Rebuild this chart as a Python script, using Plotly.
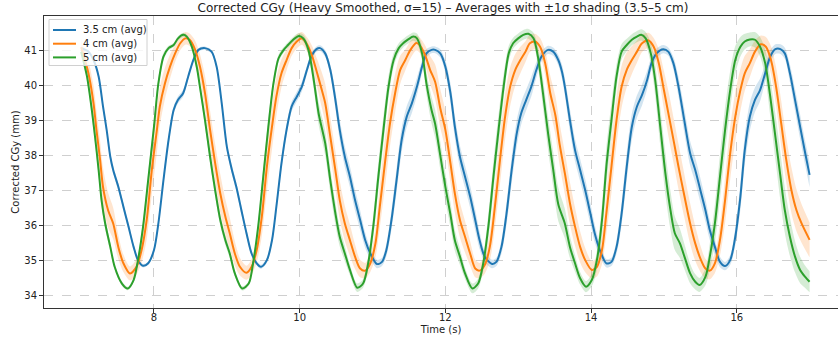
import plotly.graph_objects as go

title_text = "Corrected CGy (Heavy Smoothed, σ=15) – Averages with ±1σ shading (3.5–5 cm)"
series_names = ["3.5 cm (avg)", "4 cm (avg)", "5 cm (avg)"]
x_ticks = [8, 10, 12, 14, 16]
y_ticks = [34, 35, 36, 37, 38, 39, 40, 41]

# ---- 3.5 cm ----
t_35 = [7.00, 7.10, 7.17, 7.24, 7.30, 7.35, 7.40, 7.44, 7.51, 7.58, 7.65, 7.72, 7.78, 7.85, 7.92,
        8.00, 8.06, 8.13, 8.20, 8.27, 8.33, 8.40, 8.47, 8.54, 8.61, 8.70, 8.79, 8.86, 8.93, 9.00,
        9.07, 9.13, 9.20, 9.27, 9.34, 9.41, 9.47, 9.55, 9.62, 9.68, 9.75, 9.82, 9.89, 9.96, 10.03,
        10.10, 10.16, 10.23, 10.28, 10.35, 10.42, 10.49, 10.55, 10.62, 10.69, 10.76, 10.83, 10.90, 10.97, 11.06,
        11.13, 11.19, 11.26, 11.33, 11.40, 11.47, 11.54, 11.61, 11.68, 11.74, 11.81, 11.86, 11.93, 12.00, 12.07,
        12.13, 12.20, 12.27, 12.34, 12.41, 12.47, 12.54, 12.64, 12.70, 12.77, 12.84, 12.91, 12.98, 13.04, 13.11,
        13.18, 13.25, 13.32, 13.41, 13.48, 13.55, 13.60, 13.64, 13.71, 13.78, 13.85, 13.92, 13.99, 14.05, 14.12,
        14.21, 14.28, 14.35, 14.42, 14.49, 14.56, 14.63, 14.70, 14.77, 14.83, 14.90, 14.99, 15.06, 15.13, 15.20,
        15.28, 15.36, 15.43, 15.50, 15.57, 15.63, 15.70, 15.77, 15.84, 15.91, 15.98, 16.05, 16.11, 16.18, 16.25,
        16.32, 16.39, 16.46, 16.53, 16.60, 16.66, 16.73, 16.80, 16.87, 16.94, 17.00]
y_35 = [41.07, 40.97, 40.73, 40.26, 39.40, 38.73, 37.96, 37.58, 37.10, 36.53, 35.96, 35.38, 35.00, 34.84, 34.91,
        35.29, 36.05, 37.29, 38.44, 39.30, 39.59, 39.78, 40.26, 40.73, 41.02, 41.07, 40.97, 40.54, 39.49, 38.25,
        37.58, 37.10, 36.43, 35.77, 35.19, 34.91, 34.81, 35.00, 35.57, 36.53, 37.77, 38.73, 39.40, 39.68, 39.97,
        40.45, 40.83, 41.04, 41.07, 40.92, 40.45, 39.59, 38.73, 37.96, 37.39, 36.72, 36.15, 35.57, 35.19, 34.89,
        34.95, 35.29, 36.15, 37.29, 38.44, 39.11, 39.49, 39.97, 40.54, 40.92, 41.02, 41.02, 40.92, 40.54, 39.78,
        38.82, 37.96, 37.39, 36.82, 36.15, 35.57, 35.10, 34.89, 34.95, 35.38, 36.34, 37.58, 38.63, 39.20, 39.59,
        39.97, 40.45, 40.83, 41.02, 40.97, 40.73, 40.40, 39.97, 39.01, 38.15, 37.58, 37.00, 36.34, 35.77, 35.29,
        34.91, 34.95, 35.38, 36.34, 37.68, 38.82, 39.40, 39.73, 40.16, 40.64, 40.92, 41.04, 40.97, 40.64, 39.97,
        39.00, 38.06, 37.58, 37.01, 36.43, 35.86, 35.38, 34.95, 34.83, 35.00, 35.67, 36.82, 38.15, 39.11, 39.59,
        39.87, 40.35, 40.83, 41.04, 41.04, 40.92, 40.35, 39.59, 38.82, 38.06, 37.44]
s_35 = [.05, .05, .06, .08, .10, .10, .10, .10, .10, .10, .10, .08, .06, .05, .05,
        .07, .10, .12, .12, .10, .10, .10, .08, .06, .05, .05, .05, .07, .10, .12,
        .12, .12, .12, .10, .08, .06, .06, .07, .10, .14, .16, .16, .14, .14, .14,
        .12, .10, .08, .08, .10, .15, .25, .30, .30, .30, .30, .28, .22, .16, .12,
        .12, .18, .28, .35, .35, .30, .28, .25, .18, .12, .10, .10, .12, .18, .28,
        .32, .32, .32, .32, .30, .25, .16, .12, .12, .20, .32, .38, .38, .32, .30,
        .28, .22, .15, .12, .12, .15, .20, .25, .32, .32, .32, .32, .30, .26, .18,
        .12, .12, .20, .32, .40, .38, .32, .30, .26, .18, .14, .12, .12, .18, .28,
        .35, .35, .35, .35, .32, .28, .22, .15, .12, .14, .25, .38, .42, .40, .35,
        .32, .25, .18, .14, .14, .16, .25, .32, .35, .35, .35]

# ---- 4 cm ----
t_4 = [7.00, 7.10, 7.17, 7.21, 7.26, 7.30, 7.37, 7.44, 7.51, 7.58, 7.67, 7.76, 7.83, 7.90, 7.97,
       8.04, 8.08, 8.15, 8.22, 8.29, 8.36, 8.43, 8.49, 8.56, 8.63, 8.70, 8.77, 8.84, 8.91, 8.98,
       9.04, 9.11, 9.18, 9.27, 9.34, 9.41, 9.48, 9.55, 9.62, 9.68, 9.75, 9.82, 9.89, 9.96, 10.03,
       10.10, 10.17, 10.24, 10.30, 10.35, 10.42, 10.49, 10.55, 10.62, 10.69, 10.76, 10.83, 10.90, 10.97, 11.04,
       11.10, 11.17, 11.24, 11.31, 11.38, 11.45, 11.52, 11.60, 11.65, 11.72, 11.79, 11.86, 11.93, 12.00, 12.07,
       12.13, 12.20, 12.27, 12.34, 12.41, 12.47, 12.54, 12.61, 12.68, 12.75, 12.82, 12.89, 12.96, 13.03, 13.10,
       13.16, 13.23, 13.30, 13.37, 13.44, 13.51, 13.57, 13.64, 13.71, 13.78, 13.85, 13.92, 14.01, 14.08, 14.15,
       14.21, 14.28, 14.35, 14.42, 14.49, 14.56, 14.63, 14.70, 14.79, 14.86, 14.93, 15.00, 15.07, 15.14, 15.20,
       15.28, 15.36, 15.43, 15.50, 15.57, 15.63, 15.70, 15.77, 15.84, 15.91, 15.98, 16.05, 16.11, 16.18, 16.25,
       16.33, 16.40, 16.47, 16.54, 16.61, 16.68, 16.75, 16.82, 16.89, 17.00]
y_4 = [41.10, 40.35, 39.49, 38.73, 37.87, 37.10, 36.43, 36.05, 35.38, 34.91, 34.62, 34.81, 35.29, 36.15, 37.58,
       38.73, 39.40, 40.06, 40.54, 40.92, 41.21, 41.35, 41.31, 41.05, 40.55, 39.78, 38.73, 37.77, 36.91, 36.24,
       35.77, 35.19, 34.81, 34.64, 34.81, 35.29, 36.24, 37.68, 38.82, 39.68, 40.35, 40.73, 41.07, 41.26, 41.35,
       41.18, 40.85, 40.35, 39.90, 39.50, 38.54, 37.58, 36.72, 36.05, 35.57, 35.10, 34.76, 34.70, 34.91, 35.48,
       36.53, 37.77, 38.92, 39.78, 40.45, 40.73, 41.02, 41.22, 41.15, 40.88, 40.45, 40.10, 39.35, 38.73, 37.77,
       36.91, 36.15, 35.67, 35.19, 34.76, 34.70, 34.86, 35.38, 36.53, 37.87, 39.11, 39.97, 40.45, 40.73, 40.97,
       41.21, 41.26, 41.11, 40.64, 39.78, 39.15, 38.30, 37.49, 36.63, 35.96, 35.38, 35.00, 34.72, 34.81, 35.29,
       36.34, 37.68, 39.01, 39.97, 40.45, 40.73, 40.97, 41.21, 41.29, 41.11, 40.64, 39.87, 39.11, 38.35, 37.68,
       36.85, 36.05, 35.48, 35.05, 34.76, 34.70, 34.91, 35.58, 36.72, 38.06, 39.11, 39.87, 40.35, 40.64, 40.97,
       41.18, 41.11, 40.73, 39.97, 38.92, 37.87, 37.01, 36.43, 36.05, 35.58]
s_4 = [.20, .35, .50, .55, .55, .55, .50, .45, .35, .25, .20, .22, .35, .55, .70,
       .65, .55, .45, .35, .25, .20, .18, .18, .25, .35, .50, .55, .55, .55, .50,
       .45, .35, .25, .20, .22, .35, .55, .70, .65, .55, .40, .30, .22, .20, .18,
       .20, .28, .40, .50, .55, .55, .55, .55, .50, .45, .35, .25, .22, .25, .40,
       .60, .70, .65, .55, .40, .30, .25, .22, .22, .28, .40, .50, .55, .55, .55,
       .55, .50, .45, .35, .25, .22, .25, .40, .60, .70, .65, .55, .45, .38, .30,
       .25, .22, .25, .35, .50, .55, .60, .60, .60, .55, .45, .35, .25, .28, .40,
       .60, .75, .70, .60, .50, .40, .32, .25, .22, .25, .40, .55, .65, .65, .65,
       .62, .58, .50, .38, .28, .25, .28, .45, .65, .75, .70, .60, .50, .40, .32,
       .25, .28, .40, .55, .65, .65, .65, .60, .55, .50]

# ---- 5 cm ----
t_5 = [7.00, 7.08, 7.14, 7.19, 7.24, 7.28, 7.33, 7.40, 7.46, 7.56, 7.64, 7.72, 7.78, 7.85, 7.92,
       8.00, 8.06, 8.13, 8.20, 8.27, 8.33, 8.40, 8.45, 8.52, 8.59, 8.63, 8.70, 8.77, 8.84, 8.91,
       8.98, 9.04, 9.11, 9.21, 9.30, 9.36, 9.43, 9.50, 9.57, 9.64, 9.71, 9.78, 9.84, 9.91, 9.99,
       10.05, 10.12, 10.19, 10.26, 10.35, 10.42, 10.49, 10.55, 10.62, 10.69, 10.79, 10.87, 10.94, 11.01, 11.08,
       11.15, 11.22, 11.29, 11.36, 11.42, 11.49, 11.56, 11.61, 11.68, 11.74, 11.81, 11.86, 11.93, 12.00, 12.07,
       12.13, 12.20, 12.27, 12.37, 12.45, 12.52, 12.59, 12.66, 12.73, 12.80, 12.87, 12.93, 13.00, 13.07, 13.14,
       13.21, 13.27, 13.34, 13.41, 13.48, 13.55, 13.64, 13.71, 13.78, 13.85, 13.93, 14.01, 14.08, 14.15, 14.21,
       14.28, 14.35, 14.42, 14.49, 14.56, 14.63, 14.69, 14.75, 14.82, 14.88, 14.95, 15.02, 15.09, 15.15, 15.22,
       15.29, 15.36, 15.43, 15.49, 15.57, 15.63, 15.70, 15.77, 15.84, 15.91, 15.98, 16.05, 16.11, 16.18, 16.25,
       16.32, 16.39, 16.46, 16.53, 16.60, 16.66, 16.73, 16.80, 16.87, 16.94, 17.00]
y_5 = [40.97, 40.26, 39.40, 38.54, 37.58, 36.72, 36.05, 35.38, 34.81, 34.33, 34.19, 34.43, 35.00, 35.96, 37.29,
       38.82, 40.06, 40.83, 41.07, 41.16, 41.35, 41.45, 41.40, 41.11, 40.50, 39.97, 39.01, 37.96, 37.00, 36.15,
       35.57, 35.19, 34.62, 34.19, 34.33, 34.91, 35.96, 37.39, 38.82, 40.06, 40.78, 41.02, 41.16, 41.31, 41.42,
       41.35, 41.02, 40.20, 39.20, 38.35, 37.29, 36.34, 35.67, 35.19, 34.72, 34.21, 34.33, 34.91, 35.96, 37.39,
       38.73, 39.97, 40.73, 41.07, 41.21, 41.32, 41.40, 41.35, 40.92, 40.06, 39.30, 38.90, 38.00, 37.10, 36.30,
       35.57, 35.10, 34.62, 34.19, 34.33, 34.91, 35.96, 37.39, 38.73, 39.97, 40.92, 41.21, 41.35, 41.45, 41.48,
       41.35, 40.83, 39.78, 38.63, 37.60, 36.60, 36.05, 35.38, 34.91, 34.48, 34.24, 34.43, 35.00, 36.15, 37.68,
       39.01, 40.26, 40.97, 41.16, 41.31, 41.40, 41.45, 41.35, 40.92, 40.16, 38.82, 37.49, 36.43, 35.77, 35.48,
       35.05, 34.62, 34.38, 34.29, 34.52, 35.10, 36.05, 37.39, 38.73, 39.87, 40.73, 41.11, 41.26, 41.32, 41.31,
       41.11, 40.64, 39.68, 38.54, 37.39, 36.43, 35.67, 35.10, 34.72, 34.52, 34.38]
s_5 = [.06, .10, .15, .18, .18, .18, .16, .12, .08, .06, .05, .06, .10, .16, .20,
       .20, .15, .10, .07, .06, .06, .06, .06, .08, .12, .15, .18, .18, .18, .16,
       .14, .12, .08, .06, .06, .10, .16, .22, .22, .16, .10, .08, .08, .08, .08,
       .10, .15, .25, .32, .35, .35, .32, .28, .22, .15, .12, .12, .20, .32, .40,
       .40, .32, .20, .14, .12, .12, .12, .14, .22, .32, .38, .40, .40, .40, .36,
       .30, .24, .16, .14, .14, .22, .36, .45, .45, .36, .22, .16, .14, .14, .14,
       .16, .28, .42, .48, .50, .48, .42, .32, .24, .18, .16, .18, .28, .45, .55,
       .50, .35, .22, .18, .16, .16, .16, .18, .30, .45, .55, .60, .55, .48, .42,
       .35, .28, .22, .20, .24, .38, .55, .65, .65, .55, .40, .28, .22, .20, .22,
       .28, .40, .55, .65, .70, .65, .55, .45, .38, .32, .30]

colors = ["#1f77b4", "#ff7f0e", "#2ca02c"]
fills = ["rgba(31,119,180,0.2)", "rgba(255,127,14,0.2)", "rgba(44,160,44,0.2)"]
series = list(zip(series_names, [t_35, t_4, t_5], [y_35, y_4, y_5], [s_35, s_4, s_5], colors, fills))

fig = go.Figure()
for name, t, y, s, col, fillcol in series:
    assert len(t) == len(y) == len(s), (name, len(t), len(y), len(s))
    upper = [a + b for a, b in zip(y, s)]
    lower = [a - b for a, b in zip(y, s)]
    fig.add_trace(go.Scatter(x=t, y=upper, mode="lines", line=dict(width=0, shape="spline", smoothing=0.8),
                             showlegend=False, hoverinfo="skip"))
    fig.add_trace(go.Scatter(x=t, y=lower, mode="lines", line=dict(width=0, shape="spline", smoothing=0.8),
                             fill="tonexty", fillcolor=fillcol, showlegend=False, hoverinfo="skip"))

for name, t, y, s, col, fillcol in series:
    fig.add_trace(go.Scatter(x=t, y=y, mode="lines", name=name, showlegend=False,
                             line=dict(color=col, width=2, shape="spline", smoothing=0.8)))

W, H = 838, 341
L, R, T, B = 44, 0, 16, 33
PW, PH = W - L - R, H - T - B


def px(x):  # page pixel -> paper x
    return (x - L) / PW


def py(y):  # page pixel -> paper y
    return (H - B - y) / PH


# legend box (matplotlib-style, drawn by hand)
fig.add_shape(type="rect", xref="paper", yref="paper", x0=px(49), x1=px(147), y0=py(65.5), y1=py(19.5),
              fillcolor="rgba(255,255,255,0.8)", line=dict(color="#d0d0d0", width=1), layer="above")
for i, (name, col) in enumerate(zip(series_names, colors)):
    yy = 30 + i * 13.7
    fig.add_shape(type="line", xref="paper", yref="paper", x0=px(53), x1=px(76), y0=py(yy), y1=py(yy),
                  line=dict(color=col, width=2), layer="above")
    fig.add_annotation(text=name, xref="paper", yref="paper", x=px(81), y=py(yy), xanchor="left",
                       yanchor="middle", showarrow=False, font=dict(size=10, color="#222"))

fig.update_layout(
    width=W, height=H,
    margin=dict(l=L, r=R, t=T, b=B, pad=0, autoexpand=False),
    paper_bgcolor="white", plot_bgcolor="white",
    font=dict(family="DejaVu Sans", size=10, color="#222"),
    title=dict(text=title_text, x=443 / W, xref="container", xanchor="center",
               y=1 - 8 / H, yref="container", yanchor="middle", automargin=False,
               font=dict(size=12, color="#222")),
    showlegend=False,
)
fig.update_xaxes(range=[6.49, 17.39], tickvals=x_ticks, ticks="outside", ticklen=4, tickcolor="#333",
                 showline=True, linecolor="#333", linewidth=1, mirror=True, automargin=False,
                 ticklabelstandoff=-4,
                 showgrid=True, gridcolor="#cfcfcf", griddash="dash", gridwidth=0.8, zeroline=False,
                 title=dict(text="Time (s)", standoff=3, font=dict(size=10)))
fig.update_yaxes(range=[33.63, 41.99], tickvals=y_ticks, ticks="outside", ticklen=4, tickcolor="#333",
                 showline=True, linecolor="#333", linewidth=1, mirror=False, automargin=False,
                 showgrid=True, gridcolor="#cfcfcf", griddash="dash", gridwidth=0.8, zeroline=False,
                 title=dict(text="Corrected CGy (mm)", standoff=2, font=dict(size=10)))
fig.write_html("out.html", config={"displayModeBar": False},
               post_script="document.body.style.margin='0';")
